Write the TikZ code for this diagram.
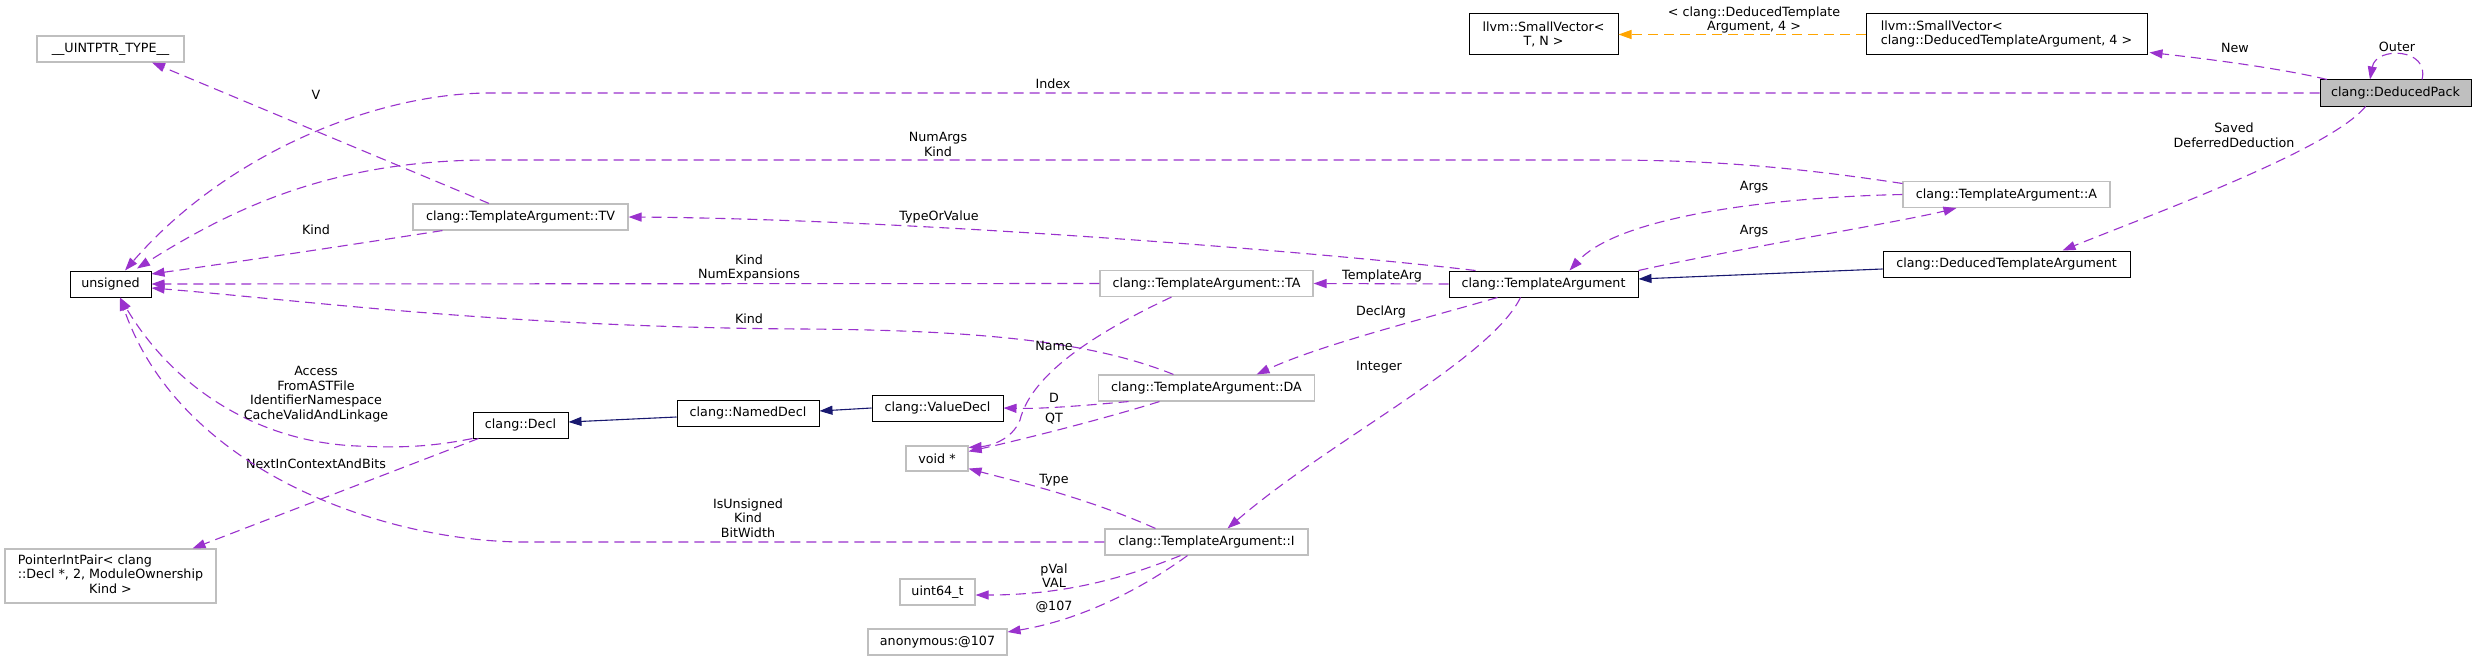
\documentclass[tikz,border=0pt]{standalone}
\usepackage{fontspec}
\setmainfont{DejaVu Sans}
\usetikzlibrary{arrows.meta}
\definecolor{edgec}{HTML}{9A32CD}
\definecolor{inhc}{HTML}{191970}
\definecolor{tmplc}{HTML}{FFA500}
\definecolor{grayb}{HTML}{BFBFBF}
\begin{document}
\begin{tikzpicture}[x=1pt,y=-1pt,
  every node/.style={font=\fontsize{12.7}{14.6}\selectfont, inner sep=0pt},
  cls/.style={draw=black, fill=white, line width=1.0pt, minimum height=26pt, align=center},
  ucls/.style={draw=grayb, fill=white, line width=1.1pt, minimum height=26pt, align=center},
  use/.style={draw=edgec, line width=1.1pt, dash pattern=on 10pt off 6pt, -{Triangle[length=13pt,width=9pt]}},
  inh/.style={draw=inhc, line width=1.1pt, -{Triangle[length=13pt,width=9pt]}},
  tpl/.style={draw=tmplc, line width=1.1pt, dash pattern=on 10pt off 6pt, -{Triangle[length=13pt,width=9pt]}},
  lbl/.style={align=center}
]
\fill[white] (0,0) rectangle (2477,661);
\useasboundingbox (0,0) rectangle (2477,661);

% nodes
\node[ucls, minimum width=147pt] (uintptr) at (110.5,49) {\_\_UINTPTR\_TYPE\_\_};
\node[cls, minimum width=81pt] (unsigned) at (110.5,284) {unsigned};
\node[ucls, minimum width=211pt, minimum height=54pt] (ptrint) at (110.5,576)
  {\begin{tabular}{@{}l@{}}PointerIntPair< clang\\::Decl *, 2, ModuleOwnership\\\multicolumn{1}{@{}c@{}}{Kind >}\end{tabular}};
\node[ucls, minimum width=215pt] (tv) at (520.5,217) {clang::TemplateArgument::TV};
\node[cls, minimum width=95pt] (decl) at (520.5,425) {clang::Decl};
\node[cls, minimum width=142pt] (named) at (748,413) {clang::NamedDecl};
\node[cls, minimum width=131pt] (valdecl) at (937.5,408) {clang::ValueDecl};
\node[ucls, minimum width=62pt, minimum height=25pt] (voidp) at (937,458.5) {void *};
\node[ucls, minimum width=75pt] (uint) at (937.5,592) {uint64\_t};
\node[ucls, minimum width=139pt] (anon) at (937.5,642) {anonymous:@107};
\node[ucls, minimum width=213pt] (ta) at (1206.5,283.5) {clang::TemplateArgument::TA};
\node[ucls, minimum width=216pt] (da) at (1206.5,388) {clang::TemplateArgument::DA};
\node[ucls, minimum width=203pt] (ii) at (1206.5,542) {clang::TemplateArgument::I};
\node[cls, minimum width=149pt, minimum height=41pt] (svtn) at (1543.5,34.5) {llvm::SmallVector<\\T, N >};
\node[cls, minimum width=189pt] (targ) at (1543.5,284) {clang::TemplateArgument};
\node[cls, minimum width=281pt, minimum height=41pt] (svdta) at (2006.5,34.5)
  {\begin{tabular}{@{}l@{}}llvm::SmallVector<\\\multicolumn{1}{@{}c@{}}{clang::DeducedTemplateArgument, 4 >}\end{tabular}};
\node[ucls, minimum width=207pt] (aa) at (2006.5,194.5) {clang::TemplateArgument::A};
\node[cls, minimum width=247pt] (dta) at (2006.5,264) {clang::DeducedTemplateArgument};
\node[cls, fill=grayb, minimum width=151pt] (dp) at (2395.5,93) {clang::DeducedPack};

% edges
\draw[use] ([xshift=26.5]dp.north) .. controls (2430,48) and (2376,46) .. ([xshift=-25.5]dp.north);
\node[lbl] (lOuter) at (2397,47) {Outer};

\draw[use] ([xshift=-68.5]dp.north) .. controls (2280,68) and (2200,58) .. ([xshift=2,yshift=3]svdta.south east);
\node[lbl] (lNew) at (2235,48) {New};

\draw[tpl] (svdta.west) -- (svtn.east);
\node[lbl] (lTpl) at (1754,20) {< clang::DeducedTemplate\\Argument, 4 >};

\draw[use] (dp.west) -- (490,93) .. controls (380,93) and (230,150) .. ([xshift=14.5]unsigned.north);
\node[lbl] (lIndex) at (1053,84) {Index};

\draw[use] ([yshift=11]aa.west) .. controls (1780,165) and (1700,160) .. (1600,160) -- (490,160) .. controls (330,160) and (230,210) .. ([xshift=26.5,yshift=2]unsigned.north);
\node[lbl] (lNumArgs) at (938,144.5) {NumArgs\\Kind};

\draw[use] ([xshift=-30]dp.south) .. controls (2330,150) and (2150,215) .. ([xshift=56]dta.north);
\node[lbl] (lSaved) at (2234,135.5) {Saved\\DeferredDeduction};

\draw[inh] ([yshift=-5]dta.west) -- ([yshift=5]targ.east);

\draw[use] (aa.west) .. controls (1780,197) and (1620,215) .. ([xshift=26]targ.north);
\node[lbl] (lArgs1) at (1754,187) {Args};

\draw[use] (targ.north east) .. controls (1730,250) and (1900,222) .. ([xshift=-50]aa.south);
\node[lbl] (lArgs2) at (1754,231) {Args};

\draw[use] ([xshift=-68]targ.north) .. controls (1300,250) and (900,219) .. (tv.east);
\node[lbl] (lTOV) at (939,217) {TypeOrValue};

\draw[use] ([xshift=-31.5]tv.north) -- ([xshift=41.5]uintptr.south);
\node[lbl] (lV) at (316,95) {V};

\draw[use] ([xshift=-78]tv.south) .. controls (350,245) and (230,263) .. ([yshift=10]unsigned.east);
\node[lbl] (lKind1) at (316,230) {Kind};

\draw[use] (ta.west) -- (unsigned.east);
\node[lbl] (lKindNE) at (749,268) {Kind\\NumExpansions};

\draw[use] (targ.west) -- (ta.east);
\node[lbl] (lTArg) at (1382,276) {TemplateArg};

\draw[use] ([xshift=-33]da.north) .. controls (1100,345) and (1000,330) .. (800,329) .. controls (500,327) and (300,300) .. ([yshift=-4]unsigned.east);
\node[lbl] (lKind2) at (749,319) {Kind};

\draw[use] ([xshift=-35]ta.south) .. controls (1080,340) and (1030,380) .. (1020,420) .. controls (1012,440) and (990,446) .. ([yshift=-2]voidp.north east);
\node[lbl] (lName) at (1054,346) {Name};

\draw[use] ([xshift=-46]targ.south) .. controls (1420,320) and (1320,345) .. ([xshift=50]da.north);
\node[lbl] (lDeclArg) at (1381,312) {DeclArg};

\draw[use] ([xshift=-23]targ.south) .. controls (1490,360) and (1330,440) .. ([xshift=21]ii.north);
\node[lbl] (lInteger) at (1379,367) {Integer};

\draw[use] ([xshift=-78]da.south) .. controls (1080,406) and (1040,409) .. (valdecl.east);
\node[lbl] (lD) at (1054,398) {D};

\draw[use] ([xshift=-47]da.south) .. controls (1100,420) and (1020,440) .. ([yshift=-6]voidp.north east);
\node[lbl] (lQT) at (1054,419) {QT};

\draw[inh] (valdecl.west) -- ([yshift=2]named.east);
\draw[inh] ([yshift=-4]named.west) -- ([yshift=3]decl.east);

\draw[use] (decl.south west) .. controls (430,447) and (400,448) .. (357,446) .. controls (260,442) and (175,390) .. ([xshift=9.5]unsigned.south);
\node[lbl] (lAccess) at (316,394) {Access\\FromASTFile\\IdentifierNamespace\\CacheValidAndLinkage};

\draw[use] ([xshift=-42]decl.south) -- ([xshift=82]ptrint.north);
\node[lbl] (lNext) at (316,464) {NextInContextAndBits};

\draw[use] (ii.west) -- (520,542) .. controls (380,540) and (180,470) .. ([xshift=9.5]unsigned.south);
\node[lbl] (lIsU) at (748,518) {IsUnsigned\\Kind\\BitWidth};

\draw[use] ([xshift=-51]ii.north) .. controls (1080,495) and (1010,480) .. ([yshift=3]voidp.south east);
\node[lbl] (lType) at (1054,480) {Type};

\draw[use] ([xshift=-26]ii.south) .. controls (1120,580) and (1060,595) .. ([yshift=-3]uint.east);
\node[lbl] (lpVal) at (1054,575.5) {pVal\\VAL};

\draw[use] ([xshift=-19]ii.south) .. controls (1140,590) and (1080,620) .. ([yshift=10]anon.east);
\node[lbl] (l107) at (1054,607) {@107};
\end{tikzpicture}
\end{document}
